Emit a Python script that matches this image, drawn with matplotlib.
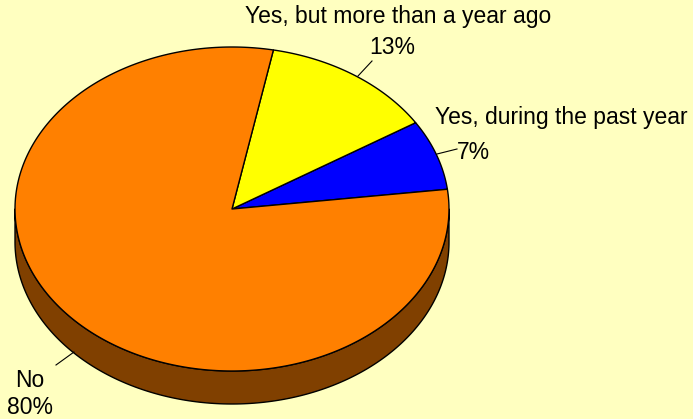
import numpy as np
import matplotlib
matplotlib.use('Agg')
import matplotlib.pyplot as plt
from matplotlib.patches import Polygon

plt.rcParams['font.family'] = ['Liberation Sans', 'DejaVu Sans']

# data
labels = ["Yes, during the past year", "Yes, but more than a year ago", "No"]
values = [7, 13, 80]
pct_labels = ["7%", "13%", "80%"]
top_colors = ["#0000FF", "#FFFF00", "#FF8000"]
side_colors = ["#000080", "#808000", "#804000"]

# geometry of the 3d pie (pixels)
cx, cy = 232, 209
ra, rb = 217, 162
depth = 33
start = 7.0

fig = plt.figure(figsize=(6.93, 4.19), dpi=100)
fig.patch.set_facecolor("#FFFFC0")
ax = fig.add_axes([0, 0, 1, 1])
ax.set_xlim(0, 693)
ax.set_ylim(419, 0)
ax.set_axis_off()


def pt(t, dz=0):
    r = np.radians(t)
    return cx + ra * np.cos(r), cy - rb * np.sin(r) + dz


total = float(sum(values))
angles = [start]
for v in values:
    angles.append(angles[-1] + v / total * 360.0)

# side walls first (only the front half, 180..360 deg, is visible)
for i in range(len(values)):
    a0, a1 = angles[i], angles[i + 1]
    for off in (0, 360, -360):
        lo = max(a0 + off, 180)
        hi = min(a1 + off, 360)
        if hi <= lo:
            continue
        ts = np.linspace(lo, hi, 200)
        upper = [pt(t) for t in ts]
        lower = [pt(t, depth) for t in ts[::-1]]
        ax.add_patch(Polygon(upper + lower, closed=True, facecolor=side_colors[i],
                             edgecolor="black", linewidth=1.0, joinstyle="round"))

# top faces
for i in range(len(values)):
    ts = np.linspace(angles[i], angles[i + 1], 300)
    verts = [(cx, cy)] + [pt(t) for t in ts]
    ax.add_patch(Polygon(verts, closed=True, facecolor=top_colors[i],
                         edgecolor="black", linewidth=1.0, joinstyle="round"))

fs = 16.5
# labels with leader lines
ax.text(561, 117, labels[0], ha="center", va="center", fontsize=fs)
ax.text(473, 152, pct_labels[0], ha="center", va="center", fontsize=fs)
ax.plot([437, 457], [154, 149], color="black", linewidth=0.8)

ax.text(398, 17, labels[1], ha="center", va="center", fontsize=fs)
ax.text(392, 48, pct_labels[1], ha="center", va="center", fontsize=fs)
ax.plot([358, 372], [76, 61], color="black", linewidth=0.8)

ax.text(30, 380, labels[2], ha="center", va="center", fontsize=fs)
ax.text(30, 407, pct_labels[2], ha="center", va="center", fontsize=fs)
ax.plot([56, 74], [365, 352], color="black", linewidth=0.8)

fig.savefig("out.png", dpi=100, facecolor=fig.get_facecolor())
